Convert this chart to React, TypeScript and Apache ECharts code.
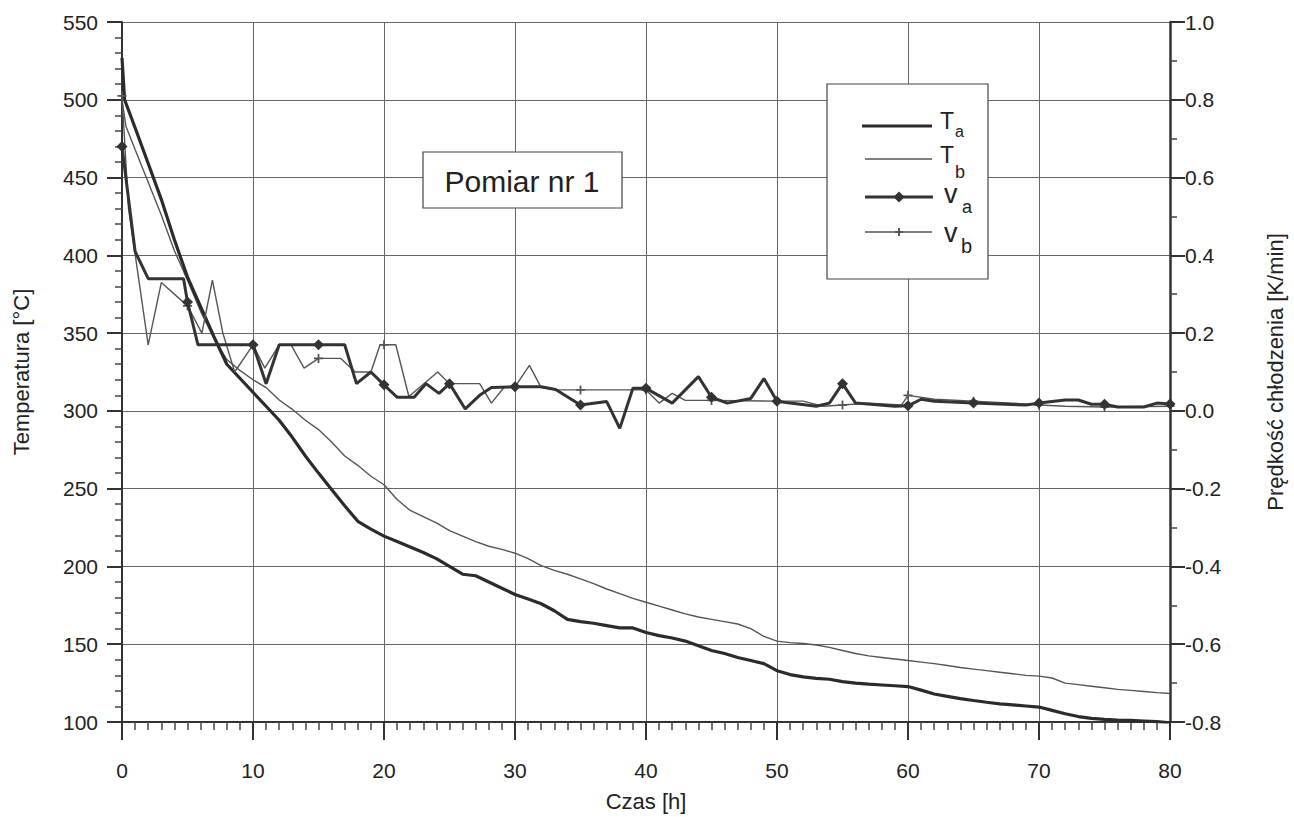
import React, { useEffect, useRef } from 'react';
import * as echarts from 'echarts';

// ---- data ----
const taTime = [0, 0.2, 1, 2, 3, 4, 5, 6, 7, 8, 9, 10, 11, 12, 13, 14, 15, 16, 17, 18, 19, 20, 21, 22, 23, 24, 25, 26, 27, 28, 29, 30, 31, 32, 33, 34, 35, 36, 37, 38, 39, 40, 41, 42, 43, 44, 45, 46, 47, 48, 49, 50, 51, 52, 53, 54, 55, 56, 57, 58, 59, 60, 61, 62, 63, 64, 65, 66, 67, 68, 69, 70, 71, 72, 73, 74, 75, 76, 77, 78, 79, 80];
const taTemp = [527, 500, 482, 459, 436, 410, 386, 367, 348, 330, 321, 312, 303, 294, 283, 271, 260, 249.5, 239, 229, 224, 219.5, 216, 212.5, 209, 205, 200, 195, 194, 190, 186, 182, 179, 176, 171.5, 166, 164.5, 163.5, 162, 160.5, 160.5, 157.5, 155.5, 154, 152, 149, 146, 144, 141.5, 139.5, 137.5, 133, 130.5, 129, 128, 127.5, 126, 125, 124.3, 123.8, 123.3, 122.8, 120.5, 118, 116.5, 115, 113.8, 112.7, 111.7, 111, 110.3, 109.6, 107.5, 105.3, 103.5, 102.3, 101.7, 101.3, 101, 100.6, 100.2, 99.5];

const tbTime = [0, 0.3, 1, 2, 3, 4, 5, 6, 7, 8, 9, 10, 11, 12, 13, 14, 15, 16, 17, 18, 19, 20, 21, 22, 23, 24, 25, 26, 27, 28, 29, 30, 31, 32, 33, 34, 35, 36, 37, 38, 39, 40, 41, 42, 43, 44, 45, 46, 47, 48, 49, 50, 51, 52, 53, 54, 55, 56, 57, 58, 59, 60, 61, 62, 63, 64, 65, 66, 67, 68, 69, 70, 71, 72, 73, 74, 75, 76, 77, 78, 79, 80];
const tbTemp = [500, 483, 468, 447, 426, 403, 384, 364, 347, 333, 326, 320, 315, 307, 301, 294, 288, 280, 271, 265, 258, 252.5, 243, 236, 232, 228, 223, 219.5, 216, 213, 211, 208.5, 205, 200.5, 197.5, 195, 192, 189, 185.5, 182.5, 179.5, 177, 174.5, 172, 169.5, 167.5, 166, 164.5, 163, 160, 155, 152, 151, 150.5, 149.5, 148, 146, 144, 142.5, 141.5, 140.5, 139.5, 138.5, 137.5, 136.3, 135, 134, 133, 132, 131, 130, 129.5, 128.3, 125, 124, 123, 122, 121, 120.3, 119.6, 118.9, 118.3];

const vaTime = [0, 1, 2, 4.7, 5, 5.8, 10, 11, 12, 15, 17, 17.9, 19, 20, 21, 22.3, 23.2, 24.2, 25, 26.2, 27.3, 28.2, 30, 32, 33.1, 35, 37, 38, 39, 40, 42, 44, 45, 46.2, 48, 49, 50, 51, 53, 54, 55, 56, 59, 60, 61, 62, 65, 69, 70, 72, 73, 74, 75, 76, 78, 79, 80];
const vaRate = [0.68, 0.41, 0.34, 0.34, 0.28, 0.17, 0.17, 0.07, 0.17, 0.17, 0.17, 0.07, 0.1, 0.067, 0.035, 0.035, 0.07, 0.045, 0.07, 0.005, 0.04, 0.06, 0.062, 0.062, 0.055, 0.015, 0.024, -0.045, 0.058, 0.058, 0.02, 0.088, 0.035, 0.02, 0.032, 0.083, 0.025, 0.02, 0.012, 0.02, 0.07, 0.02, 0.012, 0.013, 0.03, 0.025, 0.02, 0.015, 0.02, 0.028, 0.028, 0.017, 0.017, 0.01, 0.01, 0.02, 0.018];

const vbTime = [0, 0.5, 2, 3, 5, 6.1, 6.9, 7.7, 8.6, 10, 10.9, 12, 12.9, 13.9, 15, 16.7, 17.8, 19, 19.7, 20, 20.9, 21.9, 24.1, 25, 27.3, 28.2, 29.2, 30, 31.1, 32, 33.1, 35, 40, 41, 42, 43, 45, 50, 52, 53.5, 55, 57, 59.5, 60, 62, 65, 68, 70, 72, 75, 80];
const vbRate = [0.81, 0.52, 0.17, 0.33, 0.27, 0.2, 0.336, 0.2, 0.1, 0.17, 0.11, 0.17, 0.17, 0.11, 0.135, 0.135, 0.1, 0.1, 0.17, 0.17, 0.17, 0.037, 0.1, 0.07, 0.07, 0.02, 0.062, 0.062, 0.117, 0.06, 0.054, 0.054, 0.054, 0.02, 0.045, 0.027, 0.027, 0.025, 0.025, 0.012, 0.015, 0.02, 0.015, 0.04, 0.03, 0.025, 0.02, 0.015, 0.012, 0.01, 0.012];

const xTicks = { min: 0, max: 80, step: 10 };
const tempTicks = { min: 100, max: 550, step: 50 };
const rateTicks = { min: -0.8, max: 1.0, step: 0.2 };

const FONT = 'Liberation Sans, Arial, Helvetica, sans-serif';
const TXT = '#222';
const PLUS = 'path://M4,0 L6,0 L6,4 L10,4 L10,6 L6,6 L6,10 L4,10 L4,6 L0,6 L0,4 L4,4 Z';

const pairs = (ts: number[], vs: number[]) => ts.map((t, i) => [t, vs[i]]);
const marked = (ts: number[], vs: number[], sym: string, size: number) =>
  ts.map((t, i) => ({
    value: [t, vs[i]],
    symbol: Math.abs(t / 5 - Math.round(t / 5)) < 1e-9 ? sym : 'none',
    symbolSize: size,
  }));

export default function App() {
  const ref = useRef<HTMLDivElement>(null);
  useEffect(() => {
    document.body.style.margin = '0';
    const chart = echarts.init(ref.current!, undefined, { renderer: 'svg' });
    const axisLabel = { fontSize: 21, color: TXT, fontFamily: FONT };
    const nameStyle = { fontSize: 22, color: TXT, fontFamily: FONT };
    chart.setOption({
      animation: false,
      backgroundColor: '#fff',
      grid: { left: 122, right: 112, top: 22, bottom: 92, containLabel: false },
      xAxis: {
        type: 'value', min: xTicks.min, max: xTicks.max, interval: xTicks.step,
        axisLine: { show: true, onZero: false, lineStyle: { color: '#333', width: 2 } },
        axisTick: { show: true, length: 18, lineStyle: { color: '#333', width: 2 } },
        minorTick: { show: true, splitNumber: 10, length: 8, lineStyle: { color: '#444', width: 1.5 } },
        splitLine: { show: true, lineStyle: { color: '#666', width: 1 } },
        axisLabel: { ...axisLabel, margin: 38 },
        name: 'Czas [h]', nameLocation: 'middle', nameGap: 68, nameTextStyle: nameStyle,
      },
      yAxis: [
        {
          type: 'value', position: 'left', min: tempTicks.min, max: tempTicks.max, interval: tempTicks.step,
          axisLine: { show: true, onZero: false, lineStyle: { color: '#333', width: 2 } },
          axisTick: { show: true, length: 15, lineStyle: { color: '#333', width: 2 } },
          minorTick: { show: true, splitNumber: 5, length: 7, lineStyle: { color: '#444', width: 1.5 } },
          splitLine: { show: true, lineStyle: { color: '#666', width: 1 } },
          axisLabel: { ...axisLabel, margin: 24 },
          name: 'Temperatura [°C]', nameLocation: 'middle', nameGap: 90, nameRotate: 90, nameTextStyle: nameStyle,
        },
        {
          type: 'value', position: 'right', min: rateTicks.min, max: rateTicks.max, interval: rateTicks.step,
          axisLine: { show: true, onZero: false, lineStyle: { color: '#333', width: 2.5 } },
          axisTick: { show: true, length: 15, lineStyle: { color: '#333', width: 2 } },
          minorTick: { show: true, splitNumber: 2, length: 7, lineStyle: { color: '#444', width: 1.5 } },
          splitLine: { show: false },
          axisLabel: { ...axisLabel, margin: 15, formatter: (v: number) => v.toFixed(1) },
          name: 'Prędkość chłodzenia [K/min]', nameLocation: 'middle', nameGap: 94, nameRotate: 90, nameTextStyle: nameStyle,
        },
      ],
      series: [
        {
          name: 'Ta', type: 'line', yAxisIndex: 0, symbol: 'none', data: pairs(taTime, taTemp),
          lineStyle: { color: '#2b2b2b', width: 3.2 }, z: 3,
        },
        {
          name: 'Tb', type: 'line', yAxisIndex: 0, symbol: 'none', data: pairs(tbTime, tbTemp),
          lineStyle: { color: '#555', width: 1.4 }, z: 2,
        },
        {
          name: 'va', type: 'line', yAxisIndex: 1, showSymbol: true, data: marked(vaTime, vaRate, 'diamond', 11),
          lineStyle: { color: '#333', width: 3 }, itemStyle: { color: '#333' }, z: 4,
        },
        {
          name: 'vb', type: 'line', yAxisIndex: 1, showSymbol: true, data: marked(vbTime, vbRate, PLUS, 9),
          lineStyle: { color: '#555', width: 1.4 }, itemStyle: { color: '#555' }, z: 3,
        },
      ],
      graphic: [
        {
          type: 'group', z: 100, children: [
            { type: 'rect', z: 100, shape: { x: 423, y: 152, width: 199, height: 56 }, style: { fill: '#fff', stroke: '#444', lineWidth: 1.2 } },
            { type: 'text', z: 101, x: 522, y: 181, style: { text: 'Pomiar nr 1', fontSize: 30, fontFamily: FONT, fill: TXT, align: 'center', verticalAlign: 'middle' } },
          ],
        },
        {
          type: 'group', z: 100, children: [
            { type: 'rect', z: 100, shape: { x: 827, y: 84, width: 161, height: 195 }, style: { fill: '#fff', stroke: '#444', lineWidth: 1.2 } },
            { type: 'line', z: 101, shape: { x1: 862, y1: 126, x2: 932, y2: 126 }, style: { stroke: '#2b2b2b', lineWidth: 3.2 } },
            { type: 'line', z: 101, shape: { x1: 865, y1: 159, x2: 932, y2: 159 }, style: { stroke: '#555', lineWidth: 1.4 } },
            { type: 'line', z: 101, shape: { x1: 865, y1: 197, x2: 933, y2: 197 }, style: { stroke: '#333', lineWidth: 3 } },
            { type: 'polygon', z: 102, shape: { points: [[899, 191.5], [904.5, 197], [899, 202.5], [893.5, 197]] }, style: { fill: '#333' } },
            { type: 'line', z: 101, shape: { x1: 865, y1: 232, x2: 932, y2: 232 }, style: { stroke: '#555', lineWidth: 1.4 } },
            { type: 'line', z: 102, shape: { x1: 895, y1: 232, x2: 903, y2: 232 }, style: { stroke: '#555', lineWidth: 2 } },
            { type: 'line', z: 102, shape: { x1: 899, y1: 228, x2: 899, y2: 236 }, style: { stroke: '#555', lineWidth: 2 } },
            { type: 'text', z: 101, x: 940, y: 121, style: { text: 'T', fontSize: 23, fontFamily: FONT, fill: TXT, verticalAlign: 'middle' } },
            { type: 'text', z: 101, x: 955, y: 131, style: { text: 'a', fontSize: 16, fontFamily: FONT, fill: TXT, verticalAlign: 'middle' } },
            { type: 'text', z: 101, x: 940, y: 155, style: { text: 'T', fontSize: 23, fontFamily: FONT, fill: TXT, verticalAlign: 'middle' } },
            { type: 'text', z: 101, x: 955, y: 172, style: { text: 'b', fontSize: 18, fontFamily: FONT, fill: TXT, verticalAlign: 'middle' } },
            { type: 'text', z: 101, x: 944, y: 194, style: { text: 'v', fontSize: 27, fontFamily: FONT, fill: TXT, verticalAlign: 'middle' } },
            { type: 'text', z: 101, x: 962, y: 207, style: { text: 'a', fontSize: 18, fontFamily: FONT, fill: TXT, verticalAlign: 'middle' } },
            { type: 'text', z: 101, x: 944, y: 233, style: { text: 'v', fontSize: 27, fontFamily: FONT, fill: TXT, verticalAlign: 'middle' } },
            { type: 'text', z: 101, x: 961, y: 246, style: { text: 'b', fontSize: 20, fontFamily: FONT, fill: TXT, verticalAlign: 'middle' } },
          ],
        },
      ],
    });
    return () => chart.dispose();
  }, []);
  return <div ref={ref} style={{ position: 'fixed', left: 0, top: 0, width: 1294, height: 817 }} />;
}
